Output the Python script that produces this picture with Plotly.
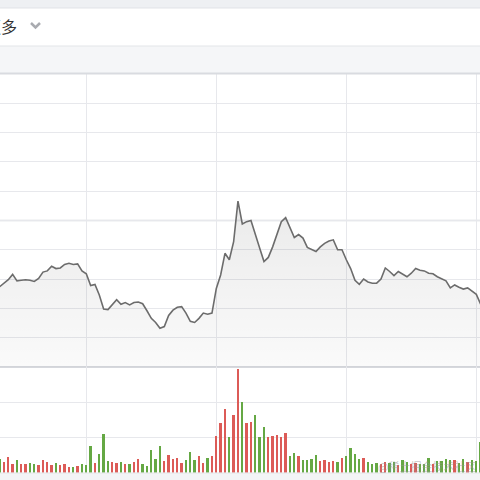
import plotly.graph_objects as go

# one point / bar per trading period
price = [
    10.37, 10.43, 10.49, 10.58, 10.47, 10.48, 10.49, 10.48, 10.46, 10.51,
    10.62, 10.64, 10.72, 10.68, 10.69, 10.75, 10.77, 10.75, 10.76, 10.64,
    10.59, 10.39, 10.41, 10.23, 9.99, 9.98, 10.06, 10.15, 10.07, 10.10,
    10.06, 10.10, 10.11, 10.08, 9.96, 9.83, 9.76, 9.66, 9.69, 9.88,
    9.97, 10.02, 10.03, 9.92, 9.78, 9.76, 9.83, 9.92, 9.90, 9.92,
    10.34, 10.57, 10.94, 10.83, 11.14, 11.83, 11.44, 11.48, 11.50, 11.25,
    11.03, 10.80, 10.87, 11.05, 11.28, 11.48, 11.55, 11.37, 11.21, 11.26,
    11.20, 11.04, 11.01, 10.97, 11.05, 11.11, 11.15, 11.17, 11.00, 11.00,
    10.83, 10.68, 10.48, 10.41, 10.50, 10.45, 10.43, 10.43, 10.50, 10.69,
    10.63, 10.56, 10.63, 10.59, 10.54, 10.60, 10.68, 10.65, 10.64, 10.60,
    10.59, 10.54, 10.51, 10.47, 10.35, 10.40, 10.36, 10.33, 10.35, 10.30,
    10.24, 10.07,
]

volume = [
    3.8, 3.1, 4.5, 2.4, 3.6, 2.5, 2.5, 2.8, 2.4, 2.2,
    3.5, 3.0, 2.3, 2.8, 2.2, 2.4, 1.7, 1.7, 2.0, 2.4,
    2.2, 7.7, 2.8, 5.3, 11.0, 3.3, 3.0, 2.8, 3.0, 2.6,
    2.4, 3.1, 3.8, 2.5, 2.0, 6.5, 3.9, 7.7, 3.3, 5.1,
    3.9, 4.3, 2.8, 3.5, 5.8, 3.6, 4.7, 2.7, 4.3, 4.8,
    10.5, 14.1, 18.2, 10.0, 16.3, 29.3, 20.2, 14.2, 14.3, 16.4,
    10.0, 13.1, 10.0, 10.5, 10.6, 10.2, 11.3, 4.8, 5.6, 4.8,
    3.5, 3.5, 4.0, 5.1, 3.4, 3.6, 3.0, 3.4, 3.0, 4.3,
    4.6, 7.1, 5.3, 3.8, 4.1, 2.9, 2.6, 2.8, 2.4, 3.1,
    2.7, 2.9, 2.3, 3.6, 3.0, 2.5, 2.7, 2.5, 2.5, 4.1,
    2.5, 3.3, 3.3, 3.9, 3.6, 3.6, 2.8, 3.9, 3.1, 3.6,
    3.4, 8.7,
]

# 1 = up day (red), 0 = down day (green)
up = [
    0, 1, 1, 1, 0, 1, 1, 0, 0, 1,
    1, 1, 1, 0, 1, 1, 1, 0, 1, 0,
    0, 0, 1, 0, 0, 0, 1, 1, 0, 1,
    0, 1, 1, 0, 0, 0, 0, 0, 1, 1,
    1, 1, 1, 0, 0, 0, 1, 1, 0, 1,
    1, 1, 1, 0, 1, 1, 0, 1, 1, 0,
    0, 0, 1, 1, 1, 1, 1, 0, 0, 1,
    0, 0, 0, 0, 1, 1, 1, 1, 0, 1,
    0, 0, 0, 0, 1, 0, 0, 0, 1, 1,
    0, 0, 1, 0, 0, 1, 1, 0, 0, 0,
    1, 0, 0, 0, 0, 1, 0, 0, 1, 0,
    0, 0,
]

prev_close = 11.5
header_text = "更多"
watermark = "@稀土掘金技术社区"

idx = list(range(len(price)))
W = H = 480


def py(p):
    # pixel row -> paper y
    return 1 - p / H


RED = "#dc5b57"
GREEN = "#65a844"
GRID = "#e7e8ec"

fig = go.Figure()

fig.add_trace(go.Scatter(
    x=idx, y=price, mode="lines",
    line=dict(color="#6c6c6c", width=1.6),
    fill="tozeroy",
    fillgradient=dict(type="vertical", start=9.0, stop=12.0,
                      colorscale=[[0, "rgba(0,0,0,0.02)"], [1, "rgba(0,0,0,0.085)"]]),
    xaxis="x", yaxis="y", hoverinfo="skip",
))

fig.add_trace(go.Bar(
    x=idx, y=volume, width=0.42,
    marker=dict(color=[RED if u else GREEN for u in up], line_width=0),
    xaxis="x2", yaxis="y2", hoverinfo="skip",
))

xr = [0.085, 110.85]
axis_x = dict(range=xr, showgrid=True, gridcolor=GRID, gridwidth=1, tick0=20, dtick=30,
              showticklabels=False, zeroline=False, showline=False, ticks="")

fig.update_layout(
    width=W, height=H,
    margin=dict(l=0, r=0, t=0, b=0),
    paper_bgcolor="white", plot_bgcolor="white",
    showlegend=False, bargap=0,
    xaxis=dict(axis_x, anchor="y"),
    xaxis2=dict(axis_x, anchor="y2", matches="x"),
    yaxis=dict(domain=[py(367), py(74)], range=[9.0, 14.0], dtick=0.5, tick0=9.0,
               showgrid=True, gridcolor=GRID, gridwidth=1, showticklabels=False,
               zeroline=False, ticks=""),
    yaxis2=dict(domain=[py(472.7), py(367)], range=[0, 30], dtick=10,
                showgrid=True, gridcolor=GRID, gridwidth=1, showticklabels=False,
                zeroline=False, ticks=""),
)

shapes = [
    # top strip
    dict(type="rect", xref="paper", yref="paper", x0=0, x1=1, y0=py(8), y1=1,
         fillcolor="#eef0f3", line_width=0),
    dict(type="line", xref="paper", yref="paper", x0=0, x1=1, y0=py(8), y1=py(8),
         line=dict(color="#e1e3e7", width=1)),
    # grey tab band
    dict(type="rect", xref="paper", yref="paper", x0=0, x1=1, y0=py(73), y1=py(46),
         fillcolor="#f5f6f8", line_width=0),
    dict(type="line", xref="paper", yref="paper", x0=0, x1=1, y0=py(46), y1=py(46),
         line=dict(color="#e3e5e8", width=1)),
    dict(type="line", xref="paper", yref="paper", x0=0, x1=1, y0=py(73.5), y1=py(73.5),
         line=dict(color="#d9dbe0", width=2)),
    # previous close reference
    dict(type="line", xref="paper", yref="y", x0=0, x1=1, y0=prev_close, y1=prev_close,
         line=dict(color="#d4d5db", width=1.5), layer="between"),
    # divider between price and volume
    dict(type="line", xref="paper", yref="paper", x0=0, x1=1, y0=py(367), y1=py(367),
         line=dict(color="#d6d8dd", width=2), layer="between"),
    # bottom strip
    dict(type="rect", xref="paper", yref="paper", x0=0, x1=1, y0=0, y1=py(473),
         fillcolor="#f3f4f6", line_width=0),
    dict(type="line", xref="paper", yref="paper", x0=0, x1=1, y0=py(473), y1=py(473),
         line=dict(color="#e3e5e8", width=1)),
    # dropdown chevron
    dict(type="path", xref="paper", yref="paper",
         path=f"M {31/W},{py(23)} L {35.5/W},{py(27.5)} L {40/W},{py(23)}",
         line=dict(color="#a9abb0", width=2.5)),
]
fig.update_layout(shapes=shapes)

fig.add_annotation(
    text=header_text, xref="paper", yref="paper", x=19 / W, y=py(26),
    xanchor="right", yanchor="middle", showarrow=False,
    font=dict(family="Noto Sans CJK SC", size=16, color="#333333"),
)
fig.add_annotation(
    text=watermark, xref="paper", yref="paper", x=478 / W, y=py(466),
    xanchor="right", yanchor="middle", showarrow=False,
    font=dict(family="Noto Sans CJK SC", size=11, color="rgba(150,150,150,0.55)"),
)

fig.write_html(
    "out.html",
    config={"displayModeBar": False},
    post_script="document.body.style.margin='0';document.body.style.overflow='hidden';",
)
